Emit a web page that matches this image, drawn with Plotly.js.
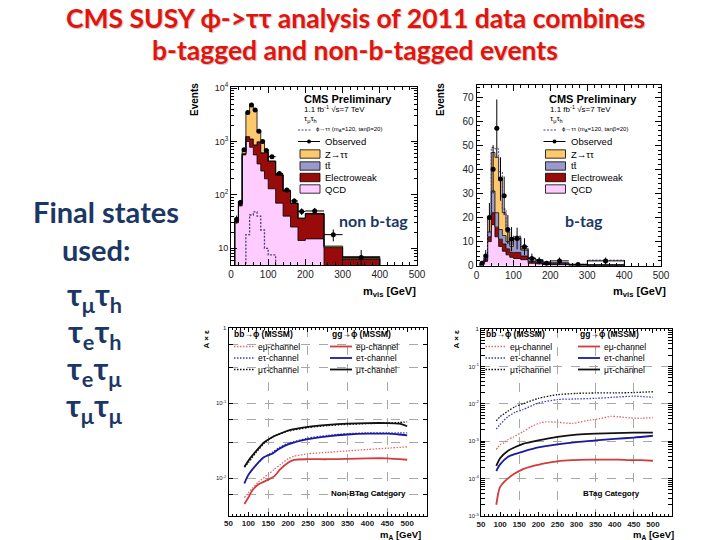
<!DOCTYPE html>
<html><head><meta charset="utf-8">
<script src="https://cdn.plot.ly/plotly-3.0.1.min.js"></script>
<style>html,body{margin:0;padding:0;background:#fff}#chart{width:720px;height:540px}</style>
</head><body><div id="chart"></div>
<script>
// ---------- data: visible-mass histograms (tau_mu tau_h) ----------
const massEdges = [10,20,30,40,50,60,70,80,90,100,120,140,160,180,200,250,300,400];

const qcdNonBtag      = [30, 62, 560, 1000, 780, 560, 380, 280, 200, 130, 70, 40, 25, 14, 15, 0, 0];
const ewkNonBtag      = [2, 6, 30, 230, 330, 300, 600, 330, 420, 290, 165, 78, 44, 22, 29, 10.3, 6.2];
const ttNonBtag       = [0, 0, 1, 2, 3, 3, 3, 3, 3, 3, 2, 1, 0.5, 0.3, 0.5, 0.2, 0.2];
const ztautauNonBtag  = [2, 7, 60, 2170, 3500, 2950, 517, 437, 80, 10, 3, 1, 0.5, 0.5, 0.5, 0.5, 0.6];
const signalNonBtag   = [0, 0, 3, 18, 42, 48, 40, 22, 10, 7.5, 3, 1, 0, 0, 0, 0, 0];
const observedNonBtag = [35, 72, 700, 3500, 4800, 3900, 1550, 1000, 680, 520, 252, 123, 77, 49, 50, 18, 6.7];
const obsErrNonBtag   = [6, 8.5, 26, 59, 69, 62, 39, 32, 26, 23, 16, 11, 9, 7, 7, 4.5, 2.6];

const qcdBtag      = [0.5, 1.8, 10, 17, 12, 8, 6, 4.5, 3.5, 3, 2.5, 1, 0.8, 0.5, 0.4, 0.2, 0.1];
const ewkBtag      = [0.2, 0.5, 2, 5, 4, 3, 3, 2.5, 2, 2.5, 1.5, 0.8, 0.5, 0.3, 0.3, 0.1, 0.1];
const ttBtag       = [0.1, 0.3, 2, 9, 6, 4, 3.5, 3, 2.5, 5.5, 2.5, 1.2, 1, 0.6, 0.4, 0.2, 0.1];
const ztautauBtag  = [0.2, 0.6, 6, 16, 23, 21, 9.5, 4, 1, 1, 0.5, 0.2, 0.2, 0.1, 0.1, 0.1, 0.2];
const signalBtag   = [0, 0, 0.5, 2, 3.5, 3, 1.5, 1, 0.5, 0.3, 0.2, 0.1, 0, 0, 0, 0, 1.8];
const observedBtag = [1, 4, 20, 40, 57, 36, 29, 15, 11, 11.3, 7.9, 3, 2, 1, 2, 0.5, 2];
const obsErrBtag   = [1, 2.5, 6, 10, 12, 9, 8, 6, 5, 4.5, 3.5, 2, 1.5, 1, 1.4, 0.7, 1.4];

// ---------- data: acceptance x efficiency vs m_A ----------
const mANonBtag   = [90,100,120,140,160,175,200,250,300,350,400,450,480,500];
const ggMuTauNB   = [0.014,0.017,0.023,0.030,0.035,0.038,0.043,0.048,0.051,0.053,0.054,0.054,0.053,0.049];
const bbMuTauNB   = [0.014,0.016,0.022,0.029,0.035,0.038,0.042,0.047,0.050,0.052,0.053,0.054,0.055,0.056];
const ggETauNB    = [0.0085,0.011,0.015,0.019,0.021,0.024,0.028,0.033,0.036,0.038,0.039,0.039,0.038,0.037];
const bbETauNB    = [0.0085,0.011,0.015,0.019,0.022,0.025,0.029,0.034,0.037,0.039,0.040,0.040,0.040,0.040];
const mAEMuNB     = [90,100,110,125,150,165,180,200,215,250,300,350,400,450,500];
const ggEMuNB     = [0.0045,0.0055,0.0068,0.0082,0.0095,0.0105,0.013,0.016,0.0175,0.0178,0.0178,0.018,0.0183,0.0183,0.0175];
const bbEMuNB     = [0.0055,0.0063,0.0073,0.0088,0.0112,0.013,0.015,0.018,0.0195,0.021,0.022,0.023,0.024,0.025,0.026];

const mABtag      = [90,100,120,140,160,200,250,300,350,400,450,500];
const bbMuTauB    = [0.0035,0.0045,0.0063,0.0085,0.010,0.014,0.0175,0.019,0.0195,0.0195,0.020,0.021];
const bbETauB     = [0.0021,0.0028,0.0045,0.006,0.007,0.0105,0.013,0.0135,0.014,0.015,0.016,0.015];
const ggMuTauB    = [0.00022,0.00035,0.00055,0.0007,0.00085,0.00105,0.0013,0.0015,0.0016,0.00165,0.0017,0.0017];
const ggETauB     = [0.00016,0.00024,0.00038,0.00046,0.00053,0.00068,0.00082,0.00095,0.00105,0.00115,0.00125,0.0014];
const mAEMuB      = [90,95,100,110,120,135,160,180,205,220,250,290,330,360,390,410,440,470,500];
const bbEMuB      = [0.0006,0.0007,0.0008,0.0009,0.0011,0.0013,0.0018,0.0024,0.0031,0.0033,0.0032,0.0030,0.0036,0.0040,0.0046,0.0045,0.0042,0.0041,0.0043];
const ggEMuB      = [0.00002,0.00004,0.00006,0.00008,0.0001,0.00013,0.00018,0.00021,0.00024,0.00026,0.00029,0.00031,0.00032,0.00032,0.00032,0.00032,0.00031,0.00031,0.0003];

const massTicks = [0,100,200,300,400,500];
const mATicks = [50,100,150,200,250,300,350,400,450,500];

// ---------- colours ----------
const C_QCD = '#ffccff', C_EWK = '#990a0a', C_TT = '#9999cc', C_Z = '#fdc86e', C_SIG = '#4b3a8c';
const C_RED = '#d23c3c', C_REDD = '#e06a6a', C_BLUE = '#1a1aa0', C_BLUED = '#3a3acc', C_BLK = '#111111';
const ROOTF = 'Liberation Sans, Arial, sans-serif';
const SLIDEF = 'Lato, Open Sans, sans-serif';
const DOTS = '1.5px,1.5px';

// ---------- helpers ----------
const W = 720, H = 540;
const px = x => x / W, py = y => 1 - y / H;

function step(edges, vals, base) {
  const x = [edges[0]], y = [base];
  for (let i = 0; i < vals.length; i++) { x.push(edges[i]); y.push(Math.max(vals[i], base)); }
  x.push(edges[vals.length]); y.push(base);
  return {x, y};
}
function stackTraces(xa, ya, edges, comps, colors, base) {
  const out = []; let cum = comps[0].map(() => 0);
  comps.forEach((c, k) => {
    cum = cum.map((v, i) => v + c[i]);
    const s = step(edges, cum, base);
    out.push({type:'scatter', mode:'lines', x:s.x, y:s.y, xaxis:xa, yaxis:ya,
      line:{color:'#000', width:0.8, shape:'hv'}, fill: k === 0 ? 'toself' : 'tonexty',
      fillcolor: colors[k], hoverinfo:'skip'});
  });
  return {traces: out, total: cum};
}
function observed(xa, ya, edges, vals, errs) {
  const xc = vals.map((v, i) => (edges[i] + edges[i+1]) / 2);
  const xe = vals.map((v, i) => (edges[i+1] - edges[i]) / 2);
  return {type:'scatter', mode:'markers', x:xc, y:vals, xaxis:xa, yaxis:ya,
    marker:{color:'#000', size:5},
    error_x:{type:'data', array:xe, color:'#000', thickness:1, width:0},
    error_y:{type:'data', array:errs, color:'#000', thickness:1, width:0}, hoverinfo:'skip'};
}
function curve(xa, ya, x, y, color, dotted) {
  return {type:'scatter', mode:'lines', x, y, xaxis:xa, yaxis:ya, hoverinfo:'skip',
    line:{color, width: dotted ? 1.3 : 1.8, dash: dotted ? DOTS : 'solid', shape:'spline', smoothing:0.6}};
}

const traces = [];
// top-left: non b-tag (log)
const nb = stackTraces('x','y', massEdges, [qcdNonBtag, ewkNonBtag, ttNonBtag, ztautauNonBtag], [C_QCD, C_EWK, C_TT, C_Z], 1);
traces.push(...nb.traces);
const sNB = step(massEdges, signalNonBtag, 1);
traces.push({type:'scatter', mode:'lines', x:sNB.x, y:sNB.y, xaxis:'x', yaxis:'y',
  line:{color:C_SIG, width:1.3, dash:'2px,1.5px', shape:'hv'}, hoverinfo:'skip'});
traces.push(observed('x','y', massEdges, observedNonBtag, obsErrNonBtag));

// top-right: b-tag (linear)
const bt = stackTraces('x2','y2', massEdges, [qcdBtag, ewkBtag, ttBtag, ztautauBtag], [C_QCD, C_EWK, C_TT, C_Z], 0);
traces.push(...bt.traces);
const sB = step(massEdges, bt.total.map((v, i) => v + signalBtag[i]), 0);
traces.push({type:'scatter', mode:'lines', x:sB.x, y:sB.y, xaxis:'x2', yaxis:'y2', fill:'tonexty',
  fillcolor:'#ffffff', line:{color:C_SIG, width:1, dash:'2px,1.5px', shape:'hv'}, hoverinfo:'skip'});
traces.push(observed('x2','y2', massEdges, observedBtag, obsErrBtag));

// bottom-left: Non-BTag acceptance
traces.push({type:'scatter', x:[], y:[], xaxis:'x5', yaxis:'y3', hoverinfo:'skip'});
traces.push(curve('x3','y3', mAEMuNB, bbEMuNB, C_REDD, true));
traces.push(curve('x3','y3', mAEMuNB, ggEMuNB, C_RED, false));
traces.push(curve('x3','y3', mANonBtag, bbETauNB, C_BLUED, true));
traces.push(curve('x3','y3', mANonBtag, ggETauNB, C_BLUE, false));
traces.push(curve('x3','y3', mANonBtag, bbMuTauNB, C_BLK, true));
traces.push(curve('x3','y3', mANonBtag, ggMuTauNB, C_BLK, false));

// bottom-right: BTag acceptance
traces.push({type:'scatter', x:[], y:[], xaxis:'x6', yaxis:'y4', hoverinfo:'skip'});
traces.push(curve('x4','y4', mAEMuB, bbEMuB, C_REDD, true));
traces.push(curve('x4','y4', mAEMuB, ggEMuB, C_RED, false));
traces.push(curve('x4','y4', mABtag, bbETauB, C_BLUED, true));
traces.push(curve('x4','y4', mABtag, ggETauB, C_BLUE, false));
traces.push(curve('x4','y4', mABtag, bbMuTauB, C_BLK, true));
traces.push(curve('x4','y4', mABtag, ggMuTauB, C_BLK, false));

// ---------- axes ----------
const frame = {showline:true, linecolor:'#000', linewidth:1, mirror:'allticks', zeroline:false,
  ticks:'inside', tickcolor:'#000', tickwidth:1};
const layout = {
  width:W, height:H, margin:{l:0, r:0, t:0, b:0}, showlegend:false,
  paper_bgcolor:'#fff', plot_bgcolor:'#fff',
  xaxis: Object.assign({}, frame, {domain:[px(231), px(417)], range:[0,500], anchor:'y',
    tickvals:massTicks, ticklen:6, showgrid:false,
    minor:{ticks:'inside', ticklen:3, dtick:20, tickcolor:'#000'},
    tickfont:{family:ROOTF, size:10, color:'#222'}}),
  yaxis: Object.assign({}, frame, {domain:[py(265), py(87)], type:'log', range:[0.687, 4.02], anchor:'x',
    tickvals:[10,100,1000,10000], ticktext:['10','10<sup>2</sup>','10<sup>3</sup>','10<sup>4</sup>'],
    ticklen:6, showgrid:false, minor:{ticks:'inside', ticklen:3, dtick:'D1', tickcolor:'#000'},
    tickfont:{family:ROOTF, size:9, color:'#222'}}),
  xaxis2: Object.assign({}, frame, {domain:[px(476.5), px(661)], range:[0,500], anchor:'y2',
    tickvals:massTicks, ticklen:6, showgrid:false,
    minor:{ticks:'inside', ticklen:3, dtick:20, tickcolor:'#000'},
    tickfont:{family:ROOTF, size:10, color:'#222'}}),
  yaxis2: Object.assign({}, frame, {domain:[py(265.7), py(85)], range:[0,75], anchor:'x2',
    tickvals:[0,10,20,30,40,50,60,70], ticklen:6, showgrid:false,
    minor:{ticks:'inside', ticklen:3, dtick:2, tickcolor:'#000'},
    tickfont:{family:ROOTF, size:10, color:'#222'}}),
  xaxis3: Object.assign({}, frame, {domain:[px(228.5), px(427)], range:[50,550], anchor:'y3',
    tickvals:mATicks, ticklen:4, showgrid:false,
    minor:{ticks:'inside', ticklen:2, dtick:10, tickcolor:'#000'},
    tickfont:{family:ROOTF, size:8, color:'#222', weight:'bold'}}),
  xaxis5: {overlaying:'x3', anchor:'y3', range:[50,550], tickvals:[150,250,350,450],
    showgrid:true, gridcolor:'#a8a8a8', griddash:'dash', gridwidth:1, showticklabels:false,
    ticks:'', showline:false, zeroline:false},
  yaxis3: Object.assign({}, frame, {domain:[py(515.5), py(328)], type:'log', range:[-2.5, 0], anchor:'x3',
    tickvals:[0.01,0.1,1], ticktext:['10<sup>-2</sup>','10<sup>-1</sup>','1'], ticklen:4,
    showgrid:true, gridcolor:'#a8a8a8', griddash:'dash',
    minor:{tickvals:[0.003,0.006,0.03,0.06,0.3,0.6], showgrid:true, gridcolor:'#a8a8a8', griddash:'dash',
      ticks:'inside', ticklen:2, tickcolor:'#000'},
    tickfont:{family:ROOTF, size:6, color:'#222'}}),
  xaxis4: Object.assign({}, frame, {domain:[px(481), px(672)], range:[50,550], anchor:'y4',
    tickvals:mATicks, ticklen:4, showgrid:false,
    minor:{ticks:'inside', ticklen:2, dtick:10, tickcolor:'#000'},
    tickfont:{family:ROOTF, size:8, color:'#222', weight:'bold'}}),
  xaxis6: {overlaying:'x4', anchor:'y4', range:[50,550], tickvals:[150,250,350,450],
    showgrid:true, gridcolor:'#a8a8a8', griddash:'dash', gridwidth:1, showticklabels:false,
    ticks:'', showline:false, zeroline:false},
  yaxis4: Object.assign({}, frame, {domain:[py(516), py(329)], type:'log', range:[-5, 0], anchor:'x4',
    tickvals:[1e-5,1e-4,1e-3,1e-2,1e-1,1],
    ticktext:['10<sup>-5</sup>','10<sup>-4</sup>','10<sup>-3</sup>','10<sup>-2</sup>','10<sup>-1</sup>','1'],
    ticklen:4, showgrid:true, gridcolor:'#a8a8a8', griddash:'dash',
    minor:{ticks:'inside', ticklen:2, dtick:'D1', tickcolor:'#000'},
    tickfont:{family:ROOTF, size:6, color:'#222'}}),
  annotations:[], shapes:[]
};

// ---------- text & legend keys ----------
const A = layout.annotations, S = layout.shapes;
function txt(x, y, text, size, opts) {
  A.push(Object.assign({xref:'paper', yref:'paper', x:px(x), y:py(y), text, showarrow:false,
    xanchor:'left', yanchor:'middle', font:{family:ROOTF, size, color:'#000'}}, opts || {}));
}
function rect(x0, y0, x1, y1, color) {
  S.push({type:'rect', xref:'paper', yref:'paper', x0:px(x0), x1:px(x1), y0:py(y1), y1:py(y0),
    fillcolor:color, line:{color:'#000', width:0.8}});
}
function hline(x0, x1, y, color, dash, width) {
  S.push({type:'line', xref:'paper', yref:'paper', x0:px(x0), x1:px(x1), y0:py(y), y1:py(y),
    line:{color, dash, width}});
}

// slide title
const titleFont = {family:SLIDEF, size:26.5, color:'#e3140e', shadow:'1px 1px 1px rgba(0,0,0,0.25)'};
txt(355, 18, '<b>CMS SUSY ϕ->ττ analysis of 2011 data combines</b>', 26.5, {xanchor:'center', font:titleFont});
txt(355, 50, '<b>b-tagged and non-b-tagged events</b>', 26.5, {xanchor:'center', font:titleFont});

// left text
const navy = {family:SLIDEF, size:29, color:'#1b3766'};
txt(106, 211, '<b>Final states</b>', 29, {xanchor:'center', font:navy});
txt(96, 249, '<b>used:</b>', 29, {xanchor:'center', font:navy});
const tauFont = {family:SLIDEF, size:31, color:'#1b3766'};
const tauRows = [['μ','h',296],['e','h',333],['e','μ',370],['μ','μ',407]];
tauRows.forEach(r => txt(94, r[2], '<b>τ<sub>'+r[0]+'</sub>τ<sub>'+r[1]+'</sub></b>', 31, {xanchor:'center', font:tauFont}));

// category labels on top plots
const catFont = {family:SLIDEF, size:16, color:'#1b3766'};
txt(373, 220, '<b>non b-tag</b>', 16, {xanchor:'center', font:catFont});
txt(584, 220, '<b>b-tag</b>', 16, {xanchor:'center', font:catFont});

// top plot axis titles and legends
[[0, 195, 418], [245.5, 441, 668]].forEach(([dx, evX, mvX]) => {
  txt(evX, 100, '<b>Events</b>', 10, {xanchor:'center', textangle:-90});
  txt(mvX, 292, '<b>m<sub>vis</sub> [GeV]</b>', 11, {xanchor:'right'});
  txt(301.5+dx, 99, '<b>CMS Preliminary</b>', 11);
  txt(302+dx, 109.5, '1.1 fb<sup>-1</sup> √s=7 TeV', 8);
  txt(302+dx, 118.5, 'τ<sub>μ</sub>τ<sub>h</sub>', 8);
  hline(298+dx, 312+dx, 130, C_SIG, '2px,1.5px', 1.2);
  txt(314+dx, 130, 'ϕ→ττ (m<sub>A</sub>=120, tanβ=20)', 6);
  hline(298+dx, 320+dx, 141.5, '#000', 'solid', 1);
  S.push({type:'circle', xref:'paper', yref:'paper', x0:px(307+dx), x1:px(311+dx),
    y0:py(143.5), y1:py(139.5), fillcolor:'#000', line:{color:'#000', width:0}});
  txt(323+dx, 141.5, 'Observed', 9.5);
  [['Z→ττ', C_Z, 154], ['tt̄', C_TT, 166], ['Electroweak', C_EWK, 177.5], ['QCD', C_QCD, 189]].forEach(e => {
    rect(300+dx, e[2]-4.2, 320+dx, e[2]+4.2, e[1]);
    txt(323+dx, e[2], e[0], 9.5);
  });
});

// bottom plots legends and titles
[[0, 0, 205.5, 423, 'Non-BTag Category', 369], [251.5, 248, 455.5, 676, 'BTag Category', 611]].forEach(
  ([dxb, dxg, axX, maX, cat, catX]) => {
  txt(axX, 339, '<b>A × ε</b>', 8, {xanchor:'center', textangle:-90});
  txt(maX, 535, '<b>m<sub>A</sub> [GeV]</b>', 9.5, {xanchor:'right'});
  txt(catX, 493, '<b>' + cat + '</b>', 8, {xanchor:'center'});
  txt(232+dxb, 334, '<b>bb→ϕ (MSSM)</b>', 8.5);
  txt(330+dxg, 334, '<b>gg→ϕ (MSSM)</b>', 8.5);
  [['eμ-channel', C_REDD, C_RED, 346.5], ['eτ-channel', C_BLUED, C_BLUE, 358], ['μτ-channel', C_BLK, C_BLK, 369.5]].forEach(r => {
    hline(234+dxb, 254+dxb, r[3], r[1], DOTS, 1.3);
    txt(256+dxb, r[3], r[0], 8.5);
    hline(330+dxg, 352+dxg, r[3], r[2], 'solid', 1.8);
    txt(354+dxg, r[3], r[0], 8.5);
  });
});

Plotly.newPlot('chart', traces, layout, {staticPlot:true, displayModeBar:false});
</script></body></html>
